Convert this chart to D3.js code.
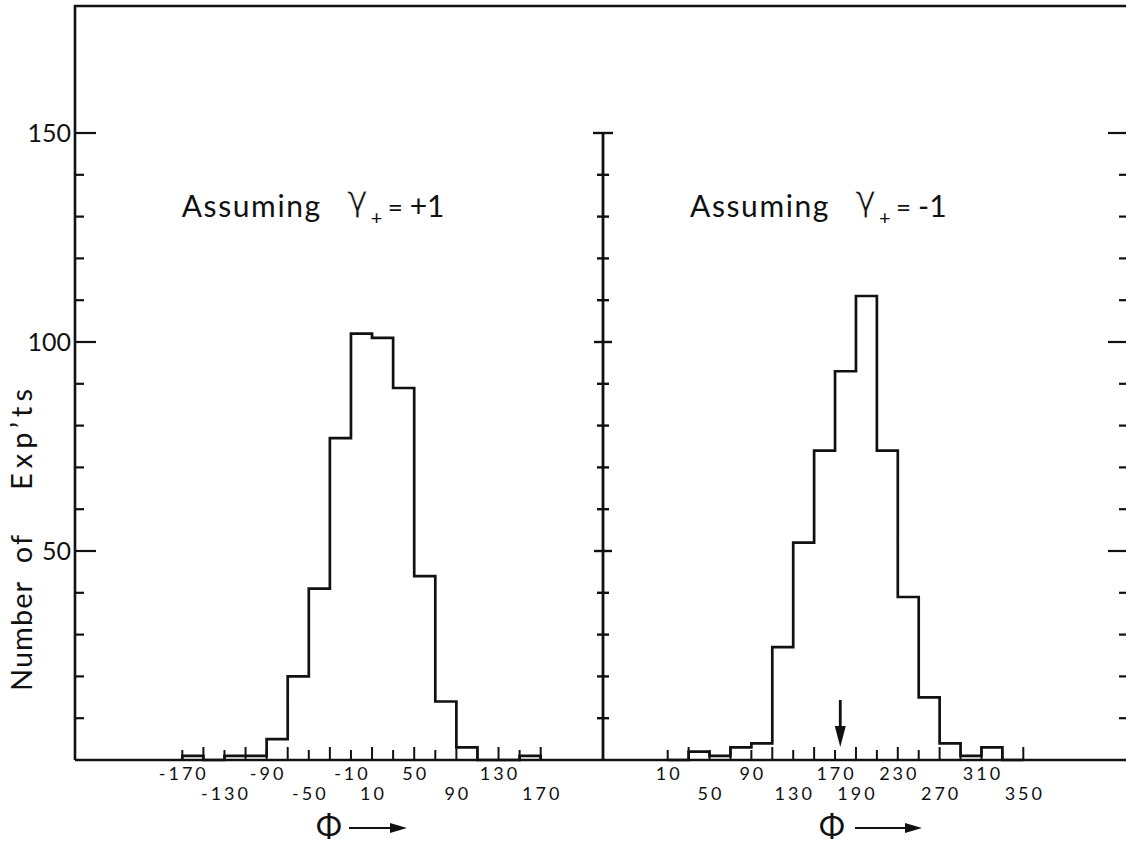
<!DOCTYPE html>
<html>
<head>
<meta charset="utf-8">
<script src="https://cdn.jsdelivr.net/npm/d3@7"></script>
<style>
  html, body { margin: 0; padding: 0; background: #fff; }
  svg { display: block; }
  text { font-family: Lato, "DejaVu Sans", sans-serif; fill: #111; }
</style>
</head>
<body>
<div id="chart"></div>
<script>
// ---------------- data ----------------
const leftBinStarts  = [-170,-150,-130,-110,-90,-70,-50,-30,-10,10,30,50,70,90,110,130,150];
const leftCounts     = [1,0,1,1,5,20,41,77,102,101,89,44,14,3,0,0,1];
const rightBinStarts = [10,30,50,70,90,110,130,150,170,190,210,230,250,270,290,310,330];
const rightCounts    = [0,2,1,3,4,27,52,74,93,111,74,39,15,4,1,3,0];
const binWidth = 20;

const leftTickValues  = [-170,-150,-130,-110,-90,-70,-50,-30,-10,10,30,50,70,90,110,130,150,170];
const rightTickValues = [10,30,50,70,90,110,130,150,170,190,210,230,250,270,290,310,330,350];
const leftLabelsTop     = [-170,-90,-10,50,130];
const leftLabelsBottom  = [-130,-50,10,90,170];
const rightLabelsTop    = [10,90,170,230,310];
const rightLabelsBottom = [50,130,190,270,350];

const yTickValues  = [10,20,30,40,50,60,70,80,90,100,110,120,130,140,150];
const yTickLabels  = [50,100,150];
const arrowPhi = 175;

const titles = [
  {panel: "left",  text: "Assuming", symbol: "\u03B3", sub: "+", value: "+1"},
  {panel: "right", text: "Assuming", symbol: "\u03B3", sub: "+", value: "-1"}
];
const yTitleWords = ["Number", "of", "Exp\u2019ts"];
const xTitle = "\u03A6";

// ---------------- layout ----------------
const W = 1126, H = 844;
const svg = d3.select("#chart").append("svg").attr("width", W).attr("height", H);

const y = d3.scaleLinear().domain([0, 150]).range([760, 133]);
const xL = d3.scaleLinear().domain([-170, 170]).range([182.3, 540.7]);
const xR = d3.scaleLinear().domain([10, 350]).range([667.7, 1023.3]);

const frameLeft = 75, frameTop = 6, midX = 603, frameRight = 1129, base = y(0);
const ink = "#111";

// frame
svg.append("path")
  .attr("d", `M${frameLeft},${base} L${frameLeft},${frameTop} L${W},${frameTop}`)
  .attr("fill", "none").attr("stroke", ink).attr("stroke-width", 2.6);
svg.append("line").attr("x1", frameLeft).attr("x2", W).attr("y1", base).attr("y2", base)
  .attr("stroke", ink).attr("stroke-width", 2.4);

// left y axis ticks + labels
const gL = svg.append("g");
gL.selectAll("line").data(yTickValues).join("line")
  .attr("x1", frameLeft).attr("x2", d => frameLeft + (d % 50 === 0 ? 21 : 9))
  .attr("y1", d => y(d)).attr("y2", d => y(d))
  .attr("stroke", ink).attr("stroke-width", 2.2);
gL.selectAll("text").data(yTickLabels).join("text")
  .attr("x", 71).attr("y", d => y(d) + 9)
  .attr("text-anchor", "end").attr("font-size", 25)
  .text(d => d);

// middle axis
svg.append("line").attr("x1", midX).attr("x2", midX).attr("y1", y(150)).attr("y2", base)
  .attr("stroke", ink).attr("stroke-width", 2.8);
svg.append("g").selectAll("line").data(yTickValues).join("line")
  .attr("x1", d => midX - (d === 150 ? 10 : d % 50 === 0 ? 9 : 6))
  .attr("x2", d => midX + (d === 150 ? 10 : d % 50 === 0 ? 9 : 6))
  .attr("y1", d => y(d)).attr("y2", d => y(d))
  .attr("stroke", ink).attr("stroke-width", 2.4);

// right axis ticks (the axis line itself lies just past the page edge)
svg.append("g").selectAll("line").data(yTickValues).join("line")
  .attr("x1", frameRight).attr("x2", d => frameRight - (d % 50 === 0 ? 21 : 10))
  .attr("y1", d => y(d)).attr("y2", d => y(d))
  .attr("stroke", ink).attr("stroke-width", 2.2);

// bottom ticks
function bottomTicks(values, x, tallRem) {
  svg.append("g").selectAll("line").data(values).join("line")
    .attr("x1", d => x(d)).attr("x2", d => x(d))
    .attr("y1", base).attr("y2", d => base - ((((d % 40) + 40) % 40) === tallRem ? 13 : 10))
    .attr("stroke", ink).attr("stroke-width", 2);
}
bottomTicks(leftTickValues, xL, 10);
bottomTicks(rightTickValues, xR, 30);

// bottom tick labels
function bottomLabels(top, bottom, x) {
  const g = svg.append("g").attr("font-size", 18).attr("letter-spacing", "3px");
  g.selectAll("text.t").data(top).join("text").attr("class", "t")
    .attr("x", d => x(d) + 1.5).attr("y", 780).attr("text-anchor", "middle").text(d => d);
  g.selectAll("text.b").data(bottom).join("text").attr("class", "b")
    .attr("x", d => x(d) + 1.5).attr("y", 799.5).attr("text-anchor", "middle").text(d => d);
}
bottomLabels(leftLabelsTop, leftLabelsBottom, xL);
bottomLabels(rightLabelsTop, rightLabelsBottom, xR);

// histograms
function histogram(starts, counts, x) {
  const pts = [[x(starts[0]), base]];
  starts.forEach((s, i) => {
    pts.push([x(s), y(counts[i])]);
    pts.push([x(s + binWidth), y(counts[i])]);
  });
  pts.push([x(starts[starts.length - 1] + binWidth), base]);
  svg.append("path")
    .attr("d", d3.line()(pts))
    .attr("fill", "none").attr("stroke", ink).attr("stroke-width", 2.7)
    .attr("stroke-linejoin", "miter");
}
histogram(leftBinStarts, leftCounts, xL);
histogram(rightBinStarts, rightCounts, xR);

// arrow marker at phi
{
  const ax = xR(arrowPhi);
  svg.append("line").attr("x1", ax).attr("x2", ax).attr("y1", 700).attr("y2", 735)
    .attr("stroke", ink).attr("stroke-width", 2.8);
  svg.append("path").attr("d", `M${ax - 5.5},${726} L${ax + 5.5},${726} L${ax},${747} Z`).attr("fill", ink);
}

// titles (one text element each, pieces as tspans)
titles.forEach(t => {
  const x0 = t.panel === "left" ? 181.7 : 690;
  const tx = svg.append("text");
  tx.append("tspan").attr("x", x0).attr("y", 217).attr("font-size", 30)
    .attr("letter-spacing", "1.6px").text(t.text);
  tx.append("tspan").attr("x", x0 + 165).attr("y", 211).attr("font-size", 36)
    .style("font-family", "'DejaVu Sans'").attr("letter-spacing", "0px")
    .attr("stroke", "#fff").attr("stroke-width", 0.9).text(t.symbol);
  tx.append("tspan").attr("x", x0 + 189).attr("y", 225).attr("font-size", 20).text(t.sub);
  tx.append("tspan").attr("x", x0 + 206).attr("y", 217).attr("font-size", 26).text("=");
  tx.append("tspan").attr("x", x0 + 228).attr("y", 217).attr("font-size", 30).text(t.value);
});

// y title (three words placed along the rotated axis)
const yt = svg.append("text")
  .attr("transform", "translate(32,0) rotate(-90)")
  .attr("font-size", 29);
yt.selectAll("tspan").data(yTitleWords).join("tspan")
  .attr("x", (d, i) => -[636, 548, 437][i]).attr("y", 0)
  .attr("letter-spacing", (d, i) => ["1px", "2px", "5px"][i])
  .attr("text-anchor", "middle").text(d => d);

// x titles with arrows
[{x0: 316, a0: 349, a1: 407}, {x0: 819, a0: 855, a1: 922}].forEach(p => {
  svg.append("text").attr("x", p.x0).attr("y", 837).attr("font-size", 31).text(xTitle);
  svg.append("line").attr("x1", p.a0).attr("x2", p.a1 - 10).attr("y1", 828).attr("y2", 828)
    .attr("stroke", ink).attr("stroke-width", 2.2);
  svg.append("path").attr("d", `M${p.a1 - 17},${823} L${p.a1},${828} L${p.a1 - 17},${833} Z`).attr("fill", ink);
});
</script>
</body>
</html>
